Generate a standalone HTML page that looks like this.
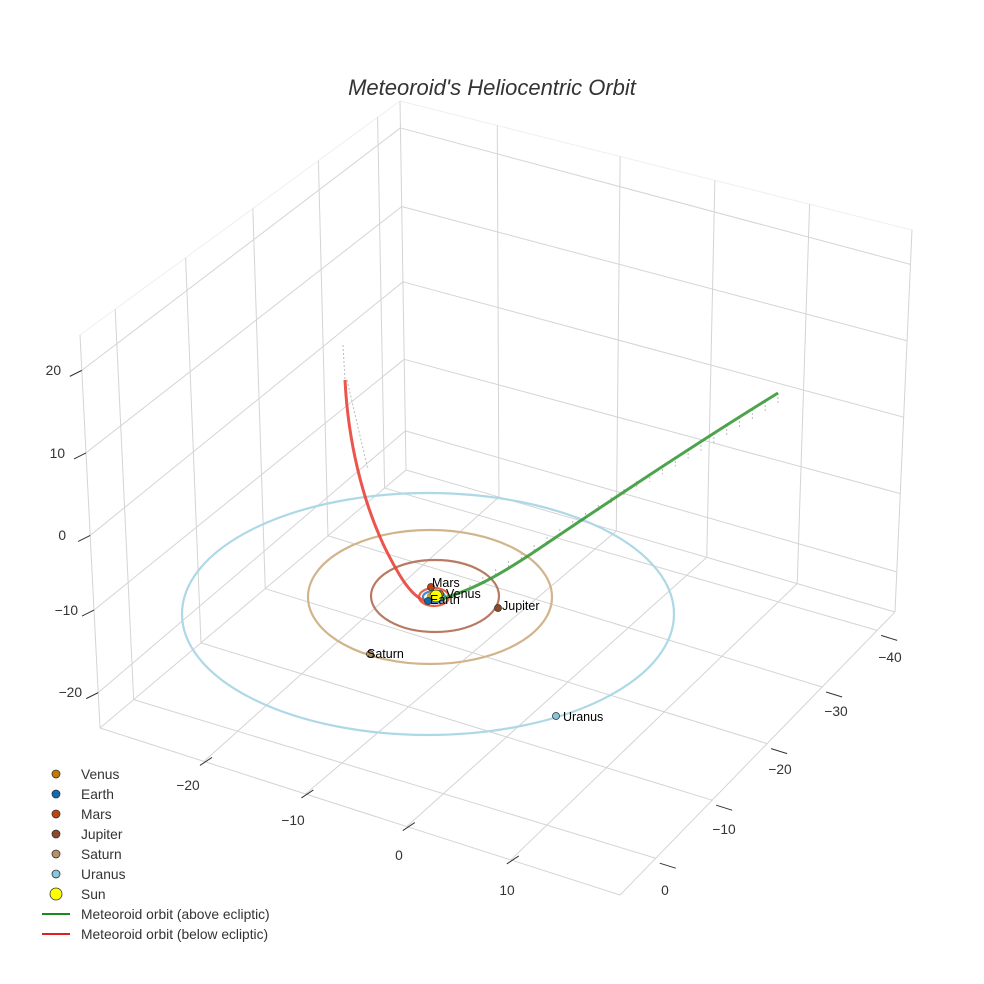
<!DOCTYPE html>
<html><head><meta charset="utf-8"><style>
html,body{margin:0;padding:0;background:#fff;}
svg{display:block;font-family:"Liberation Sans",sans-serif;}
</style></head><body>
<svg id="s" width="984" height="984" viewBox="0 0 984 984" xmlns="http://www.w3.org/2000/svg">
<rect width="984" height="984" fill="#fff"/>
<text x="492" y="95" text-anchor="middle" font-size="22" font-style="italic" fill="#333">Meteoroid's Heliocentric Orbit</text>
<g id="topg" stroke="#efefef" stroke-width="1" fill="none"></g>
<g id="grid" stroke="#d4d4d4" stroke-width="1" fill="none"></g>
<g id="ticks" stroke="#333" stroke-width="1"></g>
<g font-size="13.8" fill="#333">
<text x="61" y="375" text-anchor="end">20</text>
<text x="65" y="458" text-anchor="end">10</text>
<text x="66" y="540" text-anchor="end">0</text>
<text x="78" y="615" text-anchor="end">−10</text>
<text x="82" y="697" text-anchor="end">−20</text>
<text x="188" y="790" text-anchor="middle">−20</text>
<text x="293" y="825" text-anchor="middle">−10</text>
<text x="399" y="860" text-anchor="middle">0</text>
<text x="507" y="895" text-anchor="middle">10</text>
<text x="665" y="895" text-anchor="middle">0</text>
<text x="724" y="834" text-anchor="middle">−10</text>
<text x="780" y="774" text-anchor="middle">−20</text>
<text x="836" y="716" text-anchor="middle">−30</text>
<text x="890" y="662" text-anchor="middle">−40</text>
</g>
<g fill="none" stroke-width="2.2">
<ellipse cx="428" cy="614" rx="246" ry="121" stroke="#add8e6"/>
<ellipse cx="430" cy="597" rx="122" ry="67" stroke="#d2b48c"/>
<ellipse cx="435" cy="596" rx="64" ry="36" stroke="#b87a62"/>
<ellipse cx="434" cy="597" rx="15" ry="9" stroke="#e8624a"/>
<ellipse cx="434" cy="597" rx="11" ry="6" stroke="#3a8fd0"/>
<ellipse cx="435" cy="596" rx="7" ry="4" stroke="#d49a40"/>
</g>
<g id="drops" stroke="#bbb" stroke-width="1" stroke-dasharray="2,2"></g>
<path d="M345,380 C348,440 362,500 385,548 C400,578 412,598 428,602" stroke="#e8443a" stroke-width="3" fill="none" opacity="0.9"/>
<path d="M436,600 C470,592 500,575 540,548 C620,494 700,441 778,393" stroke="#3a9a3a" stroke-width="3" fill="none" opacity="0.9"/>
<g stroke="#333" stroke-width="0.8">
<circle cx="431" cy="587" r="3.5" fill="#c1440e"/>
<circle cx="440" cy="594" r="3.5" fill="#c87800"/>
<circle cx="428" cy="601" r="3.5" fill="#0a6db3"/>
<circle cx="436" cy="596" r="6" fill="#ffff00"/>
<circle cx="498" cy="608" r="3.5" fill="#8b4a2b"/>
<circle cx="370" cy="654" r="3.5" fill="#b89068"/>
<circle cx="556" cy="716" r="3.5" fill="#87c6dc"/>
</g>
<g font-size="12.5" fill="#000">
<text x="432" y="587">Mars</text>
<text x="446" y="598">Venus</text>
<text x="430" y="604">Earth</text>
<text x="502" y="610">Jupiter</text>
<text x="367" y="658">Saturn</text>
<text x="563" y="721">Uranus</text>
</g>
<g stroke="#333" stroke-width="0.8">
<circle cx="56" cy="774" r="4" fill="#c87800"/>
<circle cx="56" cy="794" r="4" fill="#0a6db3"/>
<circle cx="56" cy="814" r="4" fill="#c1440e"/>
<circle cx="56" cy="834" r="4" fill="#8b4a2b"/>
<circle cx="56" cy="854" r="4" fill="#b89068"/>
<circle cx="56" cy="874" r="4" fill="#87c6dc"/>
<circle cx="56" cy="894" r="6" fill="#ffff00"/>
</g>
<line x1="42" y1="914" x2="70" y2="914" stroke="#1a8a1a" stroke-width="2"/>
<line x1="42" y1="934" x2="70" y2="934" stroke="#e02020" stroke-width="2"/>
<g font-size="13.8" fill="#333">
<text x="81" y="779">Venus</text>
<text x="81" y="799">Earth</text>
<text x="81" y="819">Mars</text>
<text x="81" y="839">Jupiter</text>
<text x="81" y="859">Saturn</text>
<text x="81" y="879">Uranus</text>
<text x="81" y="899">Sun</text>
<text x="81" y="919">Meteoroid orbit (above ecliptic)</text>
<text x="81" y="939">Meteoroid orbit (below ecliptic)</text>
</g>
</svg>
<script>
(function(){
var NS="http://www.w3.org/2000/svg";
function ln(g,a,b){var l=document.createElementNS(NS,"line");l.setAttribute("x1",a[0]);l.setAttribute("y1",a[1]);l.setAttribute("x2",b[0]);l.setAttribute("y2",b[1]);g.appendChild(l);}
function lerp(a,b,t){return [a[0]+(b[0]-a[0])*t,a[1]+(b[1]-a[1])*t];}
var g=document.getElementById("grid"),tg=document.getElementById("topg"),tk=document.getElementById("ticks"),dr=document.getElementById("drops");
var L=[100,728],F=[620,895],R=[895,612],B=[406,470],TL=[80,335],TB=[400,101],TR=[912,230];
ln(g,L,F);ln(g,F,R);ln(g,L,B);ln(g,B,R);ln(tg,TL,TB);ln(tg,TB,TR);ln(g,L,TL);ln(g,B,TB);ln(g,R,TR);
var us=[0.11,0.33,0.54,0.745,0.93];
var ss=[0.13,0.335,0.535,0.735,0.935];
for(var i=0;i<5;i++){ln(g,lerp(L,B,us[i]),lerp(TL,TB,us[i]));ln(g,lerp(L,B,us[i]),lerp(F,R,ss[i]));}
var ts=[0.2,0.395,0.59,0.79];
var rs=[0.19,0.43,0.615,0.80];
for(var i=0;i<4;i++){ln(g,lerp(B,R,rs[i]),lerp(TB,TR,rs[i]));ln(g,lerp(L,F,ts[i]),lerp(B,R,rs[i]));}
var zl=[0.09,0.30,0.49,0.70,0.91],zb=[0.106,0.30,0.51,0.714,0.927],zr=[0.105,0.31,0.51,0.71,0.91];
for(var i=0;i<5;i++){var a=lerp(L,TL,zl[i]),b=lerp(B,TB,zb[i]),c=lerp(R,TR,zr[i]);ln(g,a,b);ln(g,b,c);
 ln(tk,[a[0]-12,a[1]+6],[a[0],a[1]]);}
for(var i=0;i<4;i++){var p=lerp(L,F,ts[i]);ln(tk,[p[0]-4,p[1]+4],[p[0]+8,p[1]-4]);}
for(var i=0;i<5;i++){var p=lerp(F,R,ss[i]);ln(tk,[p[0]+4,p[1]+5],[p[0]+20,p[1]+10]);}
for(var i=0;i<=24;i++){var t=i/24;var x=470+t*(778-470),y=585+t*(393-585);ln(dr,[x,y],[x,y+6+t*5]);}
ln(dr,[343,345],[345,380]);ln(dr,[347,380],[368,470]);
})();
</script>
</body></html>
